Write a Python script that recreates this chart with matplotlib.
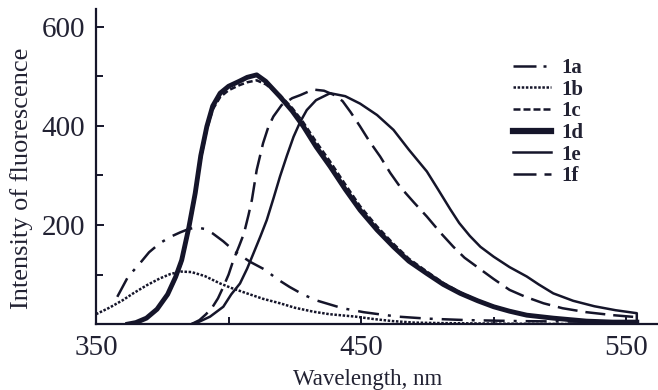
import matplotlib
matplotlib.use("Agg")
from matplotlib import pyplot as plt

# values
x_1a = [358, 362, 366.6, 370, 374, 378, 381.7, 385, 388, 391, 394, 398, 402.5, 408, 414, 418, 423, 428, 433, 438, 443, 451, 458, 464, 475, 490, 510, 530, 554]
y_1a = [55, 95, 123, 145, 163, 176, 185, 192, 195, 192, 183, 167, 146, 126, 109, 92, 75, 60, 48, 40, 32, 24, 19, 15, 11, 8, 6, 5, 4]

x_1b = [350, 355, 360, 364, 369, 374, 378, 382, 386, 391, 396.8, 401, 406.9, 413, 419.4, 425, 432, 438, 448, 455, 462, 470, 480, 500, 530, 554]
y_1b = [20, 33, 48, 62, 78, 92, 101, 106, 105, 97, 82, 73, 62, 51, 42, 33, 25, 20, 15, 10, 6, 3, 2, 1, 0, 0]

x_1c = [362, 365, 369, 373, 377, 380, 382.3, 385, 387.4, 389.5, 391.8, 394, 396.8, 400, 404, 407, 410.6, 414, 419.4, 424, 428.2, 433, 438.3, 444, 449.6, 456, 462.2, 468, 474.8, 481, 487.4, 494, 500, 506, 512.5, 522.5, 535, 545, 554]
y_1c = [0, 3, 12, 30, 58, 92, 125, 190, 258, 333, 393, 433, 458, 472, 482, 488, 492, 484, 462, 436, 407, 368, 328, 282, 238, 197, 162, 132, 106, 83, 64, 48, 36, 27, 19, 12, 6, 4, 4]

x_1d = [362, 365, 369, 373, 377, 380, 382.3, 385, 387.4, 389.5, 391.8, 394, 396.8, 400, 404, 407, 410.6, 414, 419.4, 424, 428.2, 433, 438.3, 444, 449.6, 456, 462.2, 468, 474.8, 481, 487.4, 494, 500, 506, 512.5, 522.5, 535, 545, 554]
y_1d = [0, 3, 12, 30, 60, 95, 129, 195, 264, 340, 399, 440, 466, 480, 490, 498, 503, 490, 459, 430, 399, 358, 318, 272, 230, 190, 156, 127, 102, 80, 62, 47, 35, 26, 18, 12, 6, 4, 4]

x_1e = [386, 389, 393, 398, 401, 404.3, 407, 409.4, 412, 414.4, 417, 419.4, 422, 424.5, 427, 429.5, 433, 438.3, 444, 449.6, 456, 462.2, 468, 474.8, 479, 483.6, 487, 491, 495, 500, 506, 512.5, 517, 522.5, 530, 538, 546, 554, 554]
y_1e = [0, 5, 15, 35, 60, 82, 112, 143, 177, 210, 255, 298, 340, 378, 408, 432, 452, 466, 460, 445, 422, 392, 352, 308, 272, 232, 204, 178, 156, 136, 115, 96, 80, 62, 47, 36, 28, 22, 3]

x_1f = [386, 389, 391.5, 394, 396, 398, 400, 401.8, 404, 405.8, 407.5, 408.8, 410.6, 413, 415, 416.9, 420, 424, 427, 430, 432.6, 436, 440, 443, 446, 449.6, 453, 457.2, 461, 464.7, 470, 474.8, 480, 484.8, 489, 493.6, 500, 506, 512, 518.8, 526, 535, 545, 554]
y_1f = [0, 8, 20, 35, 52, 75, 100, 129, 158, 183, 220, 251, 311, 365, 398, 419, 442, 456, 462, 469, 473, 471, 462, 450, 428, 399, 370, 338, 305, 277, 245, 217, 184, 156, 134, 116, 91, 69, 55, 42, 32, 24, 18, 14]

x_ticks = [350, 450, 550]
y_ticks = [200, 400, 600]

ink = '#15152a'
txt = '#222233'

plt.rcParams['font.family'] = ['Liberation Serif', 'DejaVu Serif']

fig = plt.figure(figsize=(6.58, 3.90), dpi=100)
ax = fig.add_axes([0.146, 0.169, 0.854, 0.808])

ax.plot(x_1a, y_1a, color=ink, lw=1.8, ls=(0, (8.4, 3.6, 1.2, 3.6)), label='1a')
ax.plot(x_1b, y_1b, color=ink, lw=1.8, ls=(0, (1, 0.65)), label='1b')
ax.plot(x_1c, y_1c, color=ink, lw=1.8, ls=(0, (2.4, 1.2)), label='1c')
ax.plot(x_1d, y_1d, color=ink, lw=3.5, ls='-', label='1d')
ax.plot(x_1e, y_1e, color=ink, lw=1.8, ls='-', label='1e')
ax.plot(x_1f, y_1f, color=ink, lw=1.8, ls=(0, (8, 3.2)), label='1f')

ax.set_xlim(350, 562)
ax.set_ylim(0, 636)
ax.set_xticks(x_ticks)
ax.set_xticks([400, 500], minor=True)
ax.set_yticks(y_ticks)
ax.set_yticks([100, 300, 500], minor=True)
ax.tick_params(which='both', direction='in', color=ink, width=1.4, labelsize=21, labelcolor=txt)
ax.tick_params(which='major', length=6, pad=8)
ax.tick_params(which='minor', length=5)

for side in ['top', 'right']:
    ax.spines[side].set_visible(False)
for side in ['left', 'bottom']:
    ax.spines[side].set_linewidth(1.6)
    ax.spines[side].set_color(ink)

ax.set_xlabel('Wavelength, nm', fontsize=16.5, color=txt)
ax.set_ylabel('Intensity of fluorescence', fontsize=19, color=txt)
ax.xaxis.set_label_coords(0.484, -0.143)
ax.yaxis.set_label_coords(-0.112, 0.463)

leg = ax.legend(loc='upper left', bbox_to_anchor=(0.764, 0.878), bbox_transform=fig.transFigure,
                frameon=False, handlelength=1.83, handletextpad=0.5, labelspacing=0.08,
                borderpad=0, prop={'weight': 'bold', 'size': 15})
for t in leg.get_texts():
    t.set_color(txt)
# the legend keys in the picture show one cycle of each pattern
hs = leg.legend_handles
hs[0].set_linestyle((0, (9.2, 2.8, 1.2, 10)))
hs[2].set_linestyle((0, (2.8, 1.2)))
hs[3].set_linewidth(4.5)
hs[5].set_linestyle((0, (9.2, 3.2, 3.2, 10)))

fig.savefig('out.png', dpi=100)
